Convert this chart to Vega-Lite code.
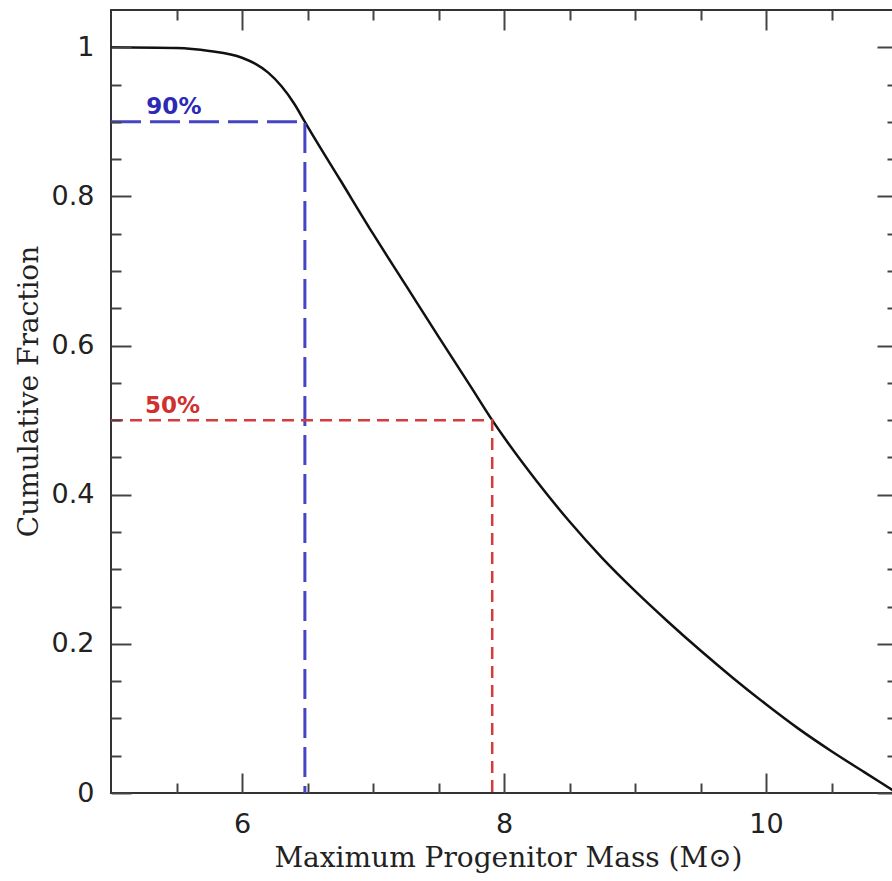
{
  "$schema": "https://vega.github.io/schema/vega-lite/v6.json",
  "width": 786,
  "height": 783,
  "autosize": "none",
  "padding": {"left": 111, "top": 10, "right": 0, "bottom": 88},
  "background": "white",
  "datasets": {
    "curve": [
      {"mass": 5.0, "frac": 1.0},
      {"mass": 5.5, "frac": 0.999},
      {"mass": 5.75, "frac": 0.995},
      {"mass": 6.0, "frac": 0.986},
      {"mass": 6.1, "frac": 0.978},
      {"mass": 6.2, "frac": 0.966},
      {"mass": 6.3, "frac": 0.948},
      {"mass": 6.4, "frac": 0.924},
      {"mass": 6.48, "frac": 0.9},
      {"mass": 6.5, "frac": 0.894},
      {"mass": 6.75, "frac": 0.822},
      {"mass": 7.0, "frac": 0.75},
      {"mass": 7.25, "frac": 0.681},
      {"mass": 7.5, "frac": 0.612},
      {"mass": 7.75, "frac": 0.544},
      {"mass": 7.91, "frac": 0.5},
      {"mass": 8.0, "frac": 0.477},
      {"mass": 8.25, "frac": 0.418},
      {"mass": 8.5, "frac": 0.364},
      {"mass": 8.75, "frac": 0.315},
      {"mass": 9.0, "frac": 0.271},
      {"mass": 9.25, "frac": 0.23},
      {"mass": 9.5, "frac": 0.191},
      {"mass": 9.75, "frac": 0.154},
      {"mass": 10.0, "frac": 0.119},
      {"mass": 10.25, "frac": 0.086},
      {"mass": 10.5, "frac": 0.056},
      {"mass": 10.75, "frac": 0.028},
      {"mass": 11.0, "frac": 0.0}
    ],
    "guides": [
      {"series": "90%", "mass": 5.0, "frac": 0.9, "step": 1},
      {"series": "90%", "mass": 6.48, "frac": 0.9, "step": 2},
      {"series": "90%", "mass": 6.48, "frac": 0.0, "step": 3},
      {"series": "50%", "mass": 5.0, "frac": 0.5, "step": 1},
      {"series": "50%", "mass": 7.91, "frac": 0.5, "step": 2},
      {"series": "50%", "mass": 7.91, "frac": 0.0, "step": 3}
    ],
    "labels": [
      {"series": "90%", "mass": 5.27, "frac": 0.91, "label": "90%"},
      {"series": "50%", "mass": 5.26, "frac": 0.51, "label": "50%"}
    ]
  },
  "layer": [
    {
      "data": {"name": "curve"},
      "mark": {"type": "line", "color": "#111111", "strokeWidth": 2.5, "interpolate": "monotone"},
      "encoding": {
        "x": {"field": "mass", "type": "quantitative", "scale": {"domain": [5, 11], "nice": false, "zero": false},
          "axis": {"orient": "bottom", "values": [6, 8, 10], "tickSize": -20, "labelPadding": 38, "format": "d",
            "title": "Maximum Progenitor Mass (M⊙)", "titleX": 397, "titleY": 73, "titleBaseline": "alphabetic", "zindex": 1}},
        "y": {"field": "frac", "type": "quantitative", "scale": {"domain": [0, 1.05], "nice": false, "zero": false},
          "axis": {"orient": "left", "values": [0, 0.2, 0.4, 0.6, 0.8, 1], "tickSize": -20, "labelPadding": 37, "format": "~g",
            "title": "Cumulative Fraction", "titleAngle": 270, "titleX": -74, "titleY": 381, "titleBaseline": "alphabetic", "titleAlign": "center", "zindex": 1}}
      }
    },
    {
      "data": {"name": "guides"},
      "transform": [{"filter": "datum.series === '90%'"}],
      "mark": {"type": "line", "color": "#4444c4", "strokeWidth": 3, "strokeDash": [30, 9]},
      "encoding": {
        "x": {"field": "mass", "type": "quantitative", "scale": {"domain": [5, 11], "nice": false, "zero": false},
          "axis": {"orient": "bottom", "values": [5.5, 6.5, 7, 7.5, 8.5, 9, 9.5, 10.5], "tickSize": -10, "labels": false, "title": null, "zindex": 1}},
        "y": {"field": "frac", "type": "quantitative", "scale": {"domain": [0, 1.05], "nice": false, "zero": false},
          "axis": {"orient": "left", "values": [0.05, 0.1, 0.15, 0.25, 0.3, 0.35, 0.45, 0.5, 0.55, 0.65, 0.7, 0.75, 0.85, 0.9, 0.95], "tickSize": -10, "labels": false, "title": null, "zindex": 1}},
        "order": {"field": "step"}
      }
    },
    {
      "data": {"name": "guides"},
      "transform": [{"filter": "datum.series === '50%'"}],
      "mark": {"type": "line", "color": "#d43c3c", "strokeWidth": 2.5, "strokeDash": [12, 7]},
      "encoding": {
        "x": {"field": "mass", "type": "quantitative", "scale": {"domain": [5, 11], "nice": false, "zero": false},
          "axis": {"orient": "top", "values": [6, 8, 10], "tickSize": -20, "labels": false, "title": null, "zindex": 1}},
        "y": {"field": "frac", "type": "quantitative", "scale": {"domain": [0, 1.05], "nice": false, "zero": false},
          "axis": {"orient": "right", "values": [0, 0.2, 0.4, 0.6, 0.8, 1], "tickSize": -20, "labels": false, "title": null, "zindex": 1}},
        "order": {"field": "step"}
      }
    },
    {
      "data": {"name": "labels"},
      "mark": {"type": "text", "align": "left", "baseline": "alphabetic", "font": "DejaVu Sans", "fontWeight": "bold", "fontSize": 23},
      "encoding": {
        "x": {"field": "mass", "type": "quantitative", "scale": {"domain": [5, 11], "nice": false, "zero": false},
          "axis": {"orient": "top", "values": [5.5, 6.5, 7, 7.5, 8.5, 9, 9.5, 10.5], "tickSize": -10, "labels": false, "title": null, "zindex": 1}},
        "y": {"field": "frac", "type": "quantitative", "scale": {"domain": [0, 1.05], "nice": false, "zero": false},
          "axis": {"orient": "right", "values": [0.05, 0.1, 0.15, 0.25, 0.3, 0.35, 0.45, 0.5, 0.55, 0.65, 0.7, 0.75, 0.85, 0.9, 0.95], "tickSize": -10, "labels": false, "title": null, "zindex": 1}},
        "text": {"field": "label"},
        "color": {"field": "series", "type": "nominal", "scale": {"domain": ["90%", "50%"], "range": ["#2a2ab4", "#d03030"]}, "legend": null}
      }
    }
  ],
  "resolve": {"axis": {"x": "independent", "y": "independent"}},
  "config": {
    "view": {"stroke": "#333333", "strokeWidth": 2},
    "axis": {
      "domain": false,
      "grid": false,
      "tickColor": "#444444",
      "tickWidth": 2,
      "labelFont": "DejaVu Sans",
      "labelFontSize": 27,
      "labelColor": "#222222",
      "titleFont": "DejaVu Serif",
      "titleFontSize": 28,
      "titleFontWeight": "normal",
      "titleColor": "#222222"
    }
  }
}
